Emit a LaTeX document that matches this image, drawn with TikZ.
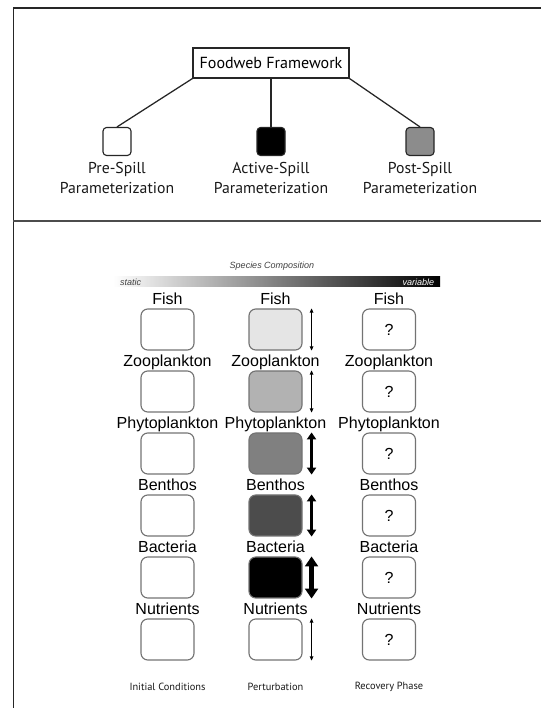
\documentclass[tikz,border=0pt]{standalone}
\usepackage{fontspec}
\setmainfont{Liberation Sans}
\newfontfamily\myriadfont{PT Sans}
\usetikzlibrary{positioning}
\usetikzlibrary{arrows.meta}

\tikzset{
  phase/.style={draw=black!55, line width=0.8pt, rounded corners=0.17cm, minimum width=1.325cm, minimum height=1.025cm, inner sep=0pt, font=\fontsize{11.4}{13}\selectfont},
  parbox/.style={draw=black!85, line width=0.8pt, rounded corners=0.09cm, minimum width=0.7cm, minimum height=0.7cm, inner sep=0pt},
  taxon/.style={font=\fontsize{11.4}{13}\selectfont, anchor=base, inner sep=0pt, text=black},
  spillnote/.style={font=\myriadfont\fontsize{11.2}{14.2}\selectfont, align=center, text=black!90, inner sep=1pt},
  phasename/.style={font=\myriadfont\fontsize{7.4}{9}\selectfont, text=black!90},
  thinarr/.style={{Triangle[length=3pt,width=2.6pt]}-{Triangle[length=3pt,width=2.6pt]}, line width=0.6pt},
  thickarr/.style={{Triangle[length=5pt,width=6.5pt]}-{Triangle[length=5pt,width=6.5pt]}, line width=2pt},
  heavyarr/.style={{Triangle[length=7pt,width=9pt]}-{Triangle[length=7pt,width=9pt]}, line width=3.2pt}
}

\begin{document}
\begin{tikzpicture}
\useasboundingbox (0,0) rectangle (13.525,17.7);
% frame
\draw[line width=1.4pt,black!85] (0.3375,0) -- (0.3375,17.5) -- (13.525,17.5);
\draw[line width=1.4pt,black!70] (0.3375,12.175) -- (13.525,12.175);

% framework
\node[draw=black!85,line width=0.8pt,minimum width=3.9cm,minimum height=0.75cm,font=\myriadfont\fontsize{11.4}{13}\selectfont] (fw) at (6.775,16.125) {Foodweb Framework};
\node[parbox,fill=white] (pre) at (2.925,14.1625) {};
\node[parbox,fill=black] (act) at (6.775,14.1625) {};
\node[parbox,fill=black!45] (post) at (10.5,14.1625) {};
\draw[line width=0.9pt,black!85] (fw.south west) -- (pre.north);
\draw[line width=0.9pt,black!85] (fw.south) -- (act.north);
\draw[line width=0.9pt,black!85] (fw.south east) -- (post.north);
\node[spillnote,below=0.12cm of pre] (prelbl) {Pre-Spill\\Parameterization};
\node[spillnote,below=0.12cm of act] (actlbl) {Active-Spill\\Parameterization};
\node[spillnote,below=0.12cm of post] (postlbl) {Post-Spill\\Parameterization};

% composition bar
\shade[left color=white,right color=black] (2.825,10.525) rectangle (11.0,10.775);
\node[font=\itshape\fontsize{6.4}{8}\selectfont,text=black!75] (spc) at (6.8,11.05) {Species Composition};
\node[font=\itshape\fontsize{6.4}{8}\selectfont,text=black!75,anchor=west] (stc) at (2.88,10.65) {static};
\node[font=\itshape\fontsize{6.4}{8}\selectfont,text=white,anchor=east] (var) at (10.98,10.65) {variable};

% initial conditions
\node[phase] (ic1) at (4.1875,9.4625) {};
\node[phase] (ic2) at (4.1875,7.9125) {};
\node[phase] (ic3) at (4.1875,6.3625) {};
\node[phase] (ic4) at (4.1875,4.8125) {};
\node[phase] (ic5) at (4.1875,3.2625) {};
\node[phase] (ic6) at (4.1875,1.7125) {};
\node[taxon] at ([yshift=0.1cm]ic1.north) {Fish};
\node[taxon] at ([yshift=0.1cm]ic2.north) {Zooplankton};
\node[taxon] at ([yshift=0.1cm]ic3.north) {Phytoplankton};
\node[taxon] at ([yshift=0.1cm]ic4.north) {Benthos};
\node[taxon] at ([yshift=0.1cm]ic5.north) {Bacteria};
\node[taxon] at ([yshift=0.1cm]ic6.north) {Nutrients};

% perturbation
\node[phase,fill=black!10] (pt1) at (6.8875,9.4625) {};
\node[phase,fill=black!30] (pt2) at (6.8875,7.9125) {};
\node[phase,fill=black!50] (pt3) at (6.8875,6.3625) {};
\node[phase,fill=black!70] (pt4) at (6.8875,4.8125) {};
\node[phase,fill=black] (pt5) at (6.8875,3.2625) {};
\node[phase] (pt6) at (6.8875,1.7125) {};
\node[taxon] at ([yshift=0.1cm]pt1.north) {Fish};
\node[taxon] at ([yshift=0.1cm]pt2.north) {Zooplankton};
\node[taxon] at ([yshift=0.1cm]pt3.north) {Phytoplankton};
\node[taxon] at ([yshift=0.1cm]pt4.north) {Benthos};
\node[taxon] at ([yshift=0.1cm]pt5.north) {Bacteria};
\node[taxon] at ([yshift=0.1cm]pt6.north) {Nutrients};
\draw[thinarr] ([xshift=0.225cm]pt1.north east) -- ([xshift=0.225cm]pt1.south east);
\draw[thinarr] ([xshift=0.225cm]pt2.north east) -- ([xshift=0.225cm]pt2.south east);
\draw[thickarr] ([xshift=0.225cm]pt3.north east) -- ([xshift=0.225cm]pt3.south east);
\draw[thickarr] ([xshift=0.225cm]pt4.north east) -- ([xshift=0.225cm]pt4.south east);
\draw[heavyarr] ([xshift=0.225cm]pt5.north east) -- ([xshift=0.225cm]pt5.south east);
\draw[thinarr] ([xshift=0.225cm]pt6.north east) -- ([xshift=0.225cm]pt6.south east);

% recovery
\node[phase] (rp1) at (9.725,9.4625) {?};
\node[phase] (rp2) at (9.725,7.9125) {?};
\node[phase] (rp3) at (9.725,6.3625) {?};
\node[phase] (rp4) at (9.725,4.8125) {?};
\node[phase] (rp5) at (9.725,3.2625) {?};
\node[phase] (rp6) at (9.725,1.7125) {?};
\node[taxon] at ([yshift=0.1cm]rp1.north) {Fish};
\node[taxon] at ([yshift=0.1cm]rp2.north) {Zooplankton};
\node[taxon] at ([yshift=0.1cm]rp3.north) {Phytoplankton};
\node[taxon] at ([yshift=0.1cm]rp4.north) {Benthos};
\node[taxon] at ([yshift=0.1cm]rp5.north) {Bacteria};
\node[taxon] at ([yshift=0.1cm]rp6.north) {Nutrients};

\node[phasename] (icname) at (4.1875,0.525) {Initial Conditions};
\node[phasename] (ptname) at (6.8875,0.525) {Perturbation};
\node[phasename] (rpname) at (9.725,0.525) {Recovery Phase};

\end{tikzpicture}
\end{document}
